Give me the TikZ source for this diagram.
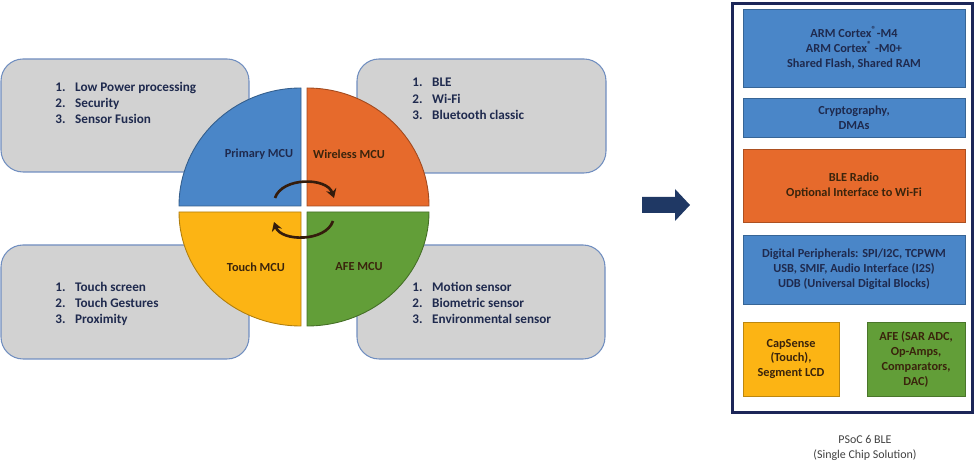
\documentclass[tikz,border=0pt]{standalone}
\usepackage{fontspec}
\setmainfont{Carlito}
\usepackage{xcolor}
\usepackage{tikz}
\usetikzlibrary{arrows.meta, positioning}
\definecolor{boxgray}{RGB}{210,210,210}
\definecolor{boxedge}{RGB}{112,142,192}
\definecolor{mcublue}{RGB}{74,134,200}
\definecolor{mcuorange}{RGB}{230,106,44}
\definecolor{mcuyellow}{RGB}{252,180,20}
\definecolor{mcugreen}{RGB}{98,158,56}
\definecolor{navytext}{RGB}{31,42,78}
\definecolor{browntext}{RGB}{58,36,12}
\definecolor{arrownavy}{RGB}{31,56,100}
\definecolor{chipedge}{RGB}{28,38,88}
\definecolor{swirl}{RGB}{52,28,12}

\begin{document}
\begin{tikzpicture}[x=0.02cm, y=-0.02cm, >=Stealth,
    usebox/.style={draw=boxedge, fill=boxgray, line width=0.6pt, rounded corners=0.44cm},
    item/.style={anchor=west, inner sep=0pt, text height=5.4pt, text depth=1.6pt,
      font=\fontsize{7.5}{9}\selectfont\bfseries, text=navytext},
    quad/.style={line width=0.5pt},
    mculabel/.style={font=\fontsize{7}{8.5}\selectfont\bfseries, text=navytext},
    blk/.style={draw=#1!75!black, fill=#1, line width=0.4pt, align=center, inner sep=0pt,
      font=\fontsize{7}{8.5}\selectfont\bfseries, text=navytext},
    swirlarrow/.style={swirl, line width=1.5pt, -{Stealth[length=5pt, width=6pt]}}]
    \useasboundingbox (0,0) rectangle (975,472);
    % Feature boxes
    \draw[usebox] (1,59) rectangle (249,172);
    \draw[usebox] (357,59) rectangle (606,173);
    \draw[usebox] (1,245) rectangle (249,359);
    \draw[usebox] (357,245) rectangle (605,359);
    \foreach \t [count=\i] in {Low Power processing, Security, Sensor Fusion}{
      \node[item] (prim\i) at (55,72+16*\i) {\makebox[11.3pt][l]{\i.}\t};
    }
    \foreach \t [count=\i] in {BLE, Wi-Fi, Bluetooth classic}{
      \node[item] (wire\i) at (412,67+16.5*\i) {\makebox[11.3pt][l]{\i.}\t};
    }
    \foreach \t [count=\i] in {Touch screen, Touch Gestures, Proximity}{
      \node[item] (touch\i) at (55,272+16*\i) {\makebox[11.3pt][l]{\i.}\t};
    }
    \foreach \t [count=\i] in {Motion sensor, Biometric sensor, Environmental sensor}{
      \node[item] (afe\i) at (412,272+16*\i) {\makebox[11.3pt][l]{\i.}\t};
    }
    % Split circle
    \filldraw[quad, fill=mcublue, draw=mcublue!70!black]
      (301,206) -- (179,206) arc[start angle=180, delta angle=90, x radius=122, y radius=118] -- cycle;
    \filldraw[quad, fill=mcuorange, draw=mcuorange!70!black]
      (307,206) -- (307,88) arc[start angle=270, delta angle=90, x radius=122, y radius=118] -- cycle;
    \filldraw[quad, fill=mcugreen, draw=mcugreen!70!black]
      (307,212) -- (429,212) arc[start angle=0, delta angle=90, x radius=122, y radius=114] -- cycle;
    \filldraw[quad, fill=mcuyellow, draw=mcuyellow!70!black]
      (301,212) -- (301,326) arc[start angle=90, delta angle=90, x radius=122, y radius=114] -- cycle;
    \node[mculabel] (primary) at (259,154) {Primary MCU};
    \node[mculabel, text=browntext] (wireless) at (349,154) {Wireless MCU};
    \node[mculabel, text=browntext] (touch) at (256,267) {Touch MCU};
    \node[mculabel, text=browntext] (afemcu) at (359,267) {AFE MCU};
    % Swirl arrows
    \coordinate (ua) at (275,198);
    \coordinate (ub) at (334,198);
    \coordinate (la) at (333,221);
    \coordinate (lb) at (274,222);
    \draw[swirlarrow] (ua) .. controls (282,177) and (327,177) .. (ub);
    \draw[swirlarrow] (la) .. controls (326,242) and (281,242) .. (lb);
    % Block arrow
    \fill[arrownavy] (642,197) -- (675,197) -- (675,189) -- (690,205) -- (675,221) -- (675,213) -- (642,213) -- cycle;
    % Single chip
    \node[draw=chipedge, line width=1.7pt, minimum width=4.82cm, minimum height=8.2cm, inner sep=0pt] (chip) at (852.5,208) {};
    \node[blk=mcublue, minimum width=4.44cm, minimum height=1.56cm] (cpu) at (854,48)
      {ARM Cortex\textsuperscript{®}-M4\\ARM Cortex\textsuperscript{®} -M0+\\Shared Flash, Shared RAM};
    \node[blk=mcublue, minimum width=4.44cm, minimum height=0.78cm] (crypto) at (854,117.5)
      {Cryptography,\\DMAs};
    \node[blk=mcuorange, text=browntext, minimum width=4.44cm, minimum height=1.46cm] (radio) at (854,185.5)
      {BLE Radio\\Optional Interface to Wi-Fi};
    \node[blk=mcublue, minimum width=4.44cm, minimum height=1.38cm] (periph) at (854,269.5)
      {Digital Peripherals: SPI/I2C, TCPWM\\USB, SMIF, Audio Interface (I2S)\\UDB (Universal Digital Blocks)};
    \node[blk=mcuyellow, text=browntext, minimum width=1.92cm, minimum height=1.48cm] (capsense) at (791,359)
      {CapSense\\(Touch),\\Segment LCD};
    \node[blk=mcugreen, text=browntext, minimum width=1.96cm, minimum height=1.48cm] (afeblk) at (916,359)
      {AFE (SAR ADC,\\Op-Amps,\\Comparators,\\DAC)};
    \node[align=center, text=black!75, font=\fontsize{6.8}{9}\selectfont] (caption) at (865,448)
      {PSoC 6 BLE\\(Single Chip Solution)};
  \end{tikzpicture}
\end{document}
